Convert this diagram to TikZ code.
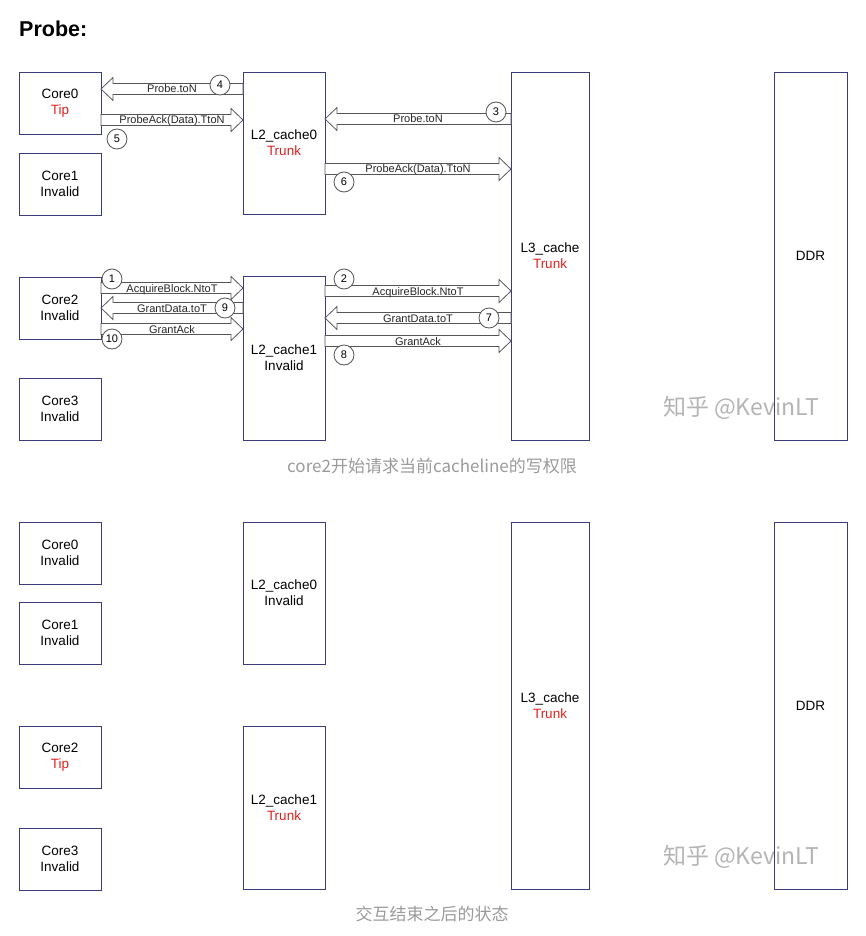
\documentclass[tikz,border=0pt]{standalone}
\usepackage{fontspec}
\setmainfont{Liberation Sans}
\newfontfamily\cjk{Noto Sans CJK SC}
\usetikzlibrary{calc}

\definecolor{boxline}{HTML}{3C3C7A}
\definecolor{arrline}{HTML}{555555}
\definecolor{statered}{HTML}{E0201E}
\definecolor{capgray}{HTML}{9A9A9A}
\definecolor{markgray}{HTML}{B4B4B4}

\tikzset{
  unit/.style={draw=boxline, line width=0.9pt, inner sep=0pt, outer sep=0pt,
    anchor=north west, align=center, font=\fontsize{13.5}{16}\selectfont},
  corebox/.style={unit, minimum width=82pt, minimum height=62pt},
  flow/.style={draw=arrline, line width=0.8pt, fill=white},
  lbl/.style={font=\fontsize{11}{12}\selectfont, inner sep=0pt, anchor=base, text=black!85},
  seq/.style={circle, draw=arrline, line width=0.8pt, fill=white, minimum size=20pt,
    inner sep=0pt, font=\fontsize{11}{12}\selectfont},
  caption/.style={font=\cjk\fontsize{17}{20}\selectfont, text=capgray},
  wmark/.style={font=\cjk\fontsize{23}{26}\selectfont, text=markgray},
}

% hollow block arrow from #1 (tail) to #2 (tip), both at the same height, labelled #3
\newcommand\flowarrow[3]{%
  \draw[flow] let \p1=(#1), \p2=(#2), \n1={sign(\x2-\x1)} in
    (\x1,{\y1+5.5pt}) -- ({\x2-\n1*12pt},{\y1+5.5pt}) -- ({\x2-\n1*12pt},{\y1+11.5pt})
    -- (\x2,\y1) -- ({\x2-\n1*12pt},{\y1-11.5pt}) -- ({\x2-\n1*12pt},{\y1-5.5pt})
    -- (\x1,{\y1-5.5pt}) -- cycle;
  \path let \p1=(#1), \p2=(#2) in
    ({(\x1+\x2)/2},{\y1-4pt}) node[lbl] {#3};
}

\begin{document}
\begin{tikzpicture}[x=1pt, y=-1pt]
\useasboundingbox (0,0) rectangle (865,936);

\node[anchor=base west, inner sep=0pt, font=\bfseries\fontsize{21.5}{24}\selectfont] (title) at (19,37) {Probe:};

% ---------- watermarks (under the boxes) ----------
\node[wmark] (wm1) at (741,408) {知乎 @KevinLT};
\node[wmark] (wm2) at (741,857) {知乎 @KevinLT};

% ---------- first state: core2 requests write permission ----------
\node[corebox] (c0) at (19,72)  {Core0\\\textcolor{statered}{Tip}};
\node[corebox] (c1) at (19,153) {Core1\\Invalid};
\node[corebox] (c2) at (19,277) {Core2\\Invalid};
\node[corebox] (c3) at (19,378) {Core3\\Invalid};
\node[unit, minimum width=82pt, minimum height=142pt] (l2a) at (243,72)  {L2\_cache0\\\textcolor{statered}{Trunk}};
\node[unit, minimum width=82pt, minimum height=164pt] (l2b) at (243,276) {L2\_cache1\\Invalid};
\node[unit, minimum width=78pt, minimum height=368pt] (l3)  at (511,72)  {L3\_cache\\\textcolor{statered}{Trunk}};
\node[unit, minimum width=73pt, minimum height=368pt] (ddr) at (774,72)  {DDR};

\flowarrow{l2a.west |- 0,89}{c0.east |- 0,89}{Probe.toN}
\flowarrow{c0.east |- 0,120}{l2a.west |- 0,120}{ProbeAck(Data).TtoN}
\flowarrow{l3.west |- 0,119}{l2a.east |- 0,119}{Probe.toN}
\flowarrow{l2a.east |- 0,169}{l3.west |- 0,169}{ProbeAck(Data).TtoN}

\flowarrow{c2.east |- 0,288}{l2b.west |- 0,288}{AcquireBlock.NtoT}
\flowarrow{l2b.west |- 0,308}{c2.east |- 0,308}{GrantData.toT}
\flowarrow{c2.east |- 0,329}{l2b.west |- 0,329}{GrantAck}
\flowarrow{l2b.east |- 0,291}{l3.west |- 0,291}{AcquireBlock.NtoT}
\flowarrow{l3.west |- 0,318}{l2b.east |- 0,318}{GrantData.toT}
\flowarrow{l2b.east |- 0,341}{l3.west |- 0,341}{GrantAck}

\node[seq] (s1)  at (112,279) {1};
\node[seq] (s2)  at (344,279) {2};
\node[seq] (s3)  at (496,112) {3};
\node[seq] (s4)  at (220,85)  {4};
\node[seq] (s5)  at (117,139) {5};
\node[seq] (s6)  at (344,182) {6};
\node[seq] (s7)  at (489,318) {7};
\node[seq] (s8)  at (344,355) {8};
\node[seq] (s9)  at (225,308) {9};
\node[seq] (s10) at (112,339) {10};

\node[caption] (cap1) at (432,466) {core2开始请求当前cacheline的写权限};

% ---------- second state: after the transaction ----------
\node[corebox] (d0) at (19,522) {Core0\\Invalid};
\node[corebox] (d1) at (19,602) {Core1\\Invalid};
\node[corebox] (d2) at (19,726) {Core2\\\textcolor{statered}{Tip}};
\node[corebox] (d3) at (19,828) {Core3\\Invalid};
\node[unit, minimum width=82pt, minimum height=142pt] (m2a) at (243,522) {L2\_cache0\\Invalid};
\node[unit, minimum width=82pt, minimum height=163pt] (m2b) at (243,726) {L2\_cache1\\\textcolor{statered}{Trunk}};
\node[unit, minimum width=78pt, minimum height=367pt] (m3)  at (511,522) {L3\_cache\\\textcolor{statered}{Trunk}};
\node[unit, minimum width=73pt, minimum height=367pt] (mddr) at (774,522) {DDR};

\node[caption] (cap2) at (432,914) {交互结束之后的状态};
\end{tikzpicture}
\end{document}
